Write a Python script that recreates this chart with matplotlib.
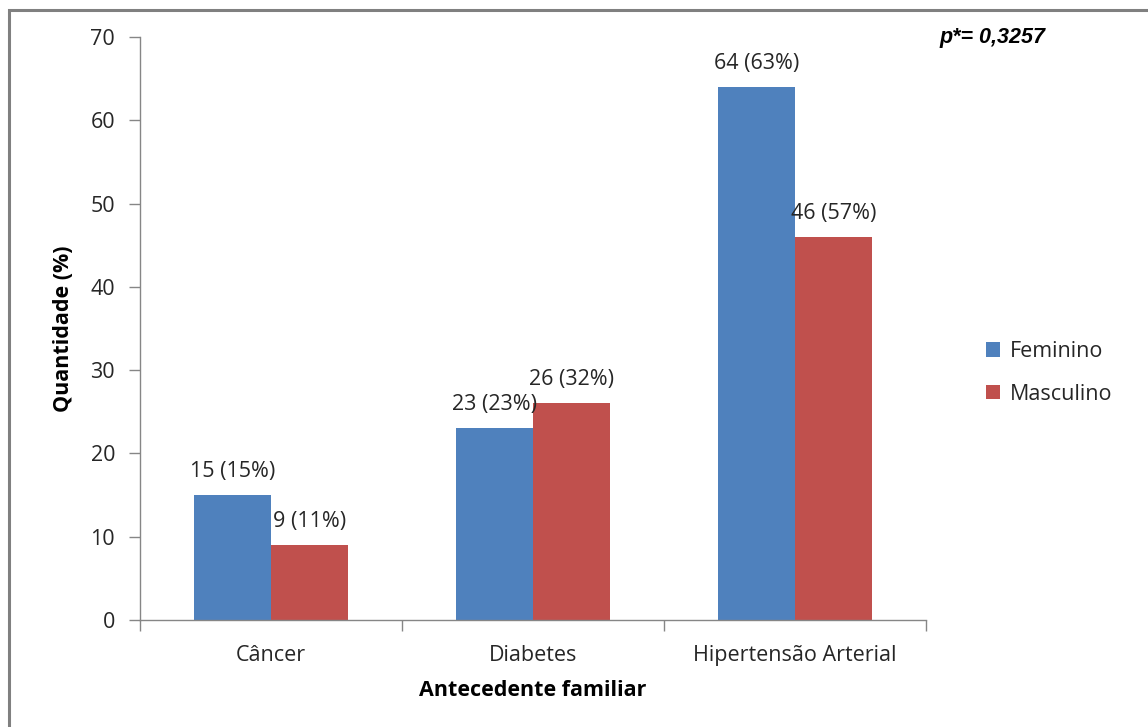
import matplotlib
matplotlib.use("Agg")
import matplotlib.pyplot as plt
import numpy as np
from matplotlib.patches import Rectangle

categories = ["Câncer", "Diabetes", "Hipertensão Arterial"]
feminino = [15, 23, 64]
masculino = [9, 26, 46]
pct_feminino = [15, 23, 63]
pct_masculino = [11, 32, 57]
series_names = ["Feminino", "Masculino"]
yticks = [0, 10, 20, 30, 40, 50, 60, 70]

BLUE = "#4F81BD"
RED = "#C0504D"
GRAY = "#868686"
TXT = "#262626"
FONT = ["Open Sans", "DejaVu Sans"]
FS = 15.5

plt.rcParams["font.family"] = FONT

fig = plt.figure(figsize=(11.48, 7.27), dpi=100)
W, H = 1148, 727

# Outer frame around the chart area
fig.patches.append(Rectangle((9 / W, -0.05), 1.2, (H - 10) / H + 0.05,
                             transform=fig.transFigure, fill=False,
                             edgecolor="#808080", linewidth=2.2))

ax = fig.add_axes([140 / W, 1 - 620 / H, (926 - 140) / W, (620 - 37) / H])

x = np.arange(len(categories))
bw = 0.292
b1 = ax.bar(x - bw / 2, feminino, bw, color=BLUE, label=series_names[0])
b2 = ax.bar(x + bw / 2, masculino, bw, color=RED, label=series_names[1])

for rects, vals, pcts in ((b1, feminino, pct_feminino), (b2, masculino, pct_masculino)):
    for r, v, p in zip(rects, vals, pcts):
        ax.annotate(f"{v} ({p}%)", (r.get_x() + r.get_width() / 2, v),
                    xytext=(0, 17), textcoords="offset points",
                    ha="center", va="center", fontsize=FS, color=TXT)

ax.set_xlim(-0.5, len(categories) - 0.5)
ax.set_ylim(0, 70)
ax.set_yticks(yticks)
ax.tick_params(axis="y", direction="out", length=8, width=1, color=GRAY,
               labelsize=FS, pad=10, labelcolor=TXT)

# Category labels centred, tick marks at the category boundaries
ax.set_xticks(x)
ax.set_xticklabels(categories)
ax.tick_params(axis="x", which="major", length=0, labelsize=FS, pad=18,
               labelcolor=TXT)
ax.set_xticks(np.arange(-0.5, len(categories)), minor=True)
ax.tick_params(axis="x", which="minor", direction="out", length=8, width=1,
               color=GRAY)

for s in ("top", "right"):
    ax.spines[s].set_visible(False)
for s in ("left", "bottom"):
    ax.spines[s].set_color(GRAY)
    ax.spines[s].set_linewidth(1)

ax.set_ylabel("Quantidade (%)", fontsize=FS, fontweight="bold", labelpad=12)
ax.set_xlabel("Antecedente familiar", fontsize=FS, fontweight="bold", labelpad=10)

fig.legend(handles=[b1, b2], labels=series_names, loc="center left",
           bbox_to_anchor=(967 / W, 1 - 373 / H), frameon=False,
           fontsize=FS, handlelength=0.65, handleheight=0.65, handletextpad=0.45,
           labelspacing=1.0, labelcolor=TXT)

fig.text(939 / W, 1 - 38 / H, "p*= 0,3257", fontsize=15.5, fontweight="bold",
         style="italic", family=["Liberation Sans", "DejaVu Sans"],
         ha="left", va="center")

fig.savefig("out.png", dpi=100)
